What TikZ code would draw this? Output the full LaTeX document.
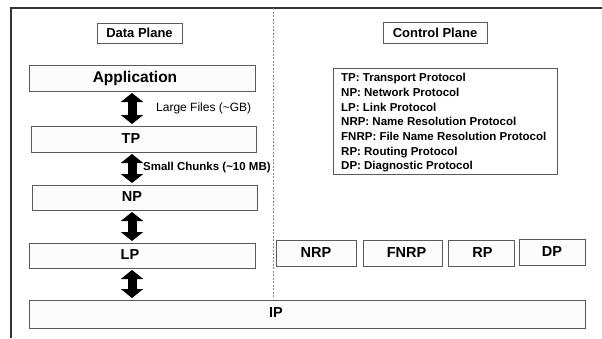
\documentclass[tikz,border=0pt]{standalone}
\usepackage{fontspec}
\setmainfont{Liberation Sans}
\usetikzlibrary{arrows.meta,calc}
\definecolor{boxline}{HTML}{5A5A5A}
\definecolor{boxfill}{HTML}{FCFCFC}
\definecolor{frameline}{HTML}{333333}
\definecolor{dashline}{HTML}{8A8A8A}
\tikzset{
  layerbox/.style={draw=boxline, fill=boxfill, line width=1pt, inner sep=0pt},
  titlebox/.style={draw=boxline, fill=white, line width=1pt, inner sep=0pt, font=\fontsize{13}{15}\selectfont\bfseries},
  boxtext/.style={inner sep=0pt, font=\fontsize{14.5}{17}\selectfont\bfseries},
  dblarrow/.style={line width=9pt, {Triangle[width=22pt,length=9pt]}-{Triangle[width=22pt,length=9pt]}, black, shorten <=1.5pt, shorten >=1.5pt},
  sidelabel/.style={inner sep=0pt, anchor=west},
}
\begin{document}
\begin{tikzpicture}[x=1pt,y=-1pt]
\useasboundingbox (0,0) rectangle (602,338);
% frame
\coordinate (fl) at (11,338);
\coordinate (fc) at (11,8);
\coordinate (fr) at (602,8);
\draw[frameline, line width=1.2pt] (fl) -- (fc) -- (fr);
% dashed separator
\coordinate (dtop) at (273,8);
\coordinate (dbot) at (273,298);
\draw[dashline, line width=1pt, dash pattern=on 2pt off 1.5pt] (dtop) -- (dbot);
% titles
\node[titlebox, minimum width=85pt, minimum height=20pt] (dataplane) at (139.5,33) {Data Plane};
\node[titlebox, minimum width=104pt, minimum height=21pt] (ctrlplane) at (435,32.5) {Control Plane};
% data plane stack
\node[layerbox, minimum width=226pt, minimum height=26pt] (app) at (142,78) {};
\node[boxtext, font=\fontsize{15.5}{18}\selectfont\bfseries] (apptext) at (135,78) {Application};
\node[layerbox, minimum width=225pt, minimum height=26pt] (tp) at (143.5,139) {};
\node[boxtext] (tptext) at (131,139) {TP};
\node[layerbox, minimum width=225pt, minimum height=25pt] (np) at (144.5,197.5) {};
\node[boxtext] (nptext) at (132,197) {NP};
\node[layerbox, minimum width=226pt, minimum height=25pt] (lp) at (142,255.5) {};
\node[boxtext] (lptext) at (130,255) {LP};
\node[layerbox, minimum width=556pt, minimum height=28pt] (ip) at (307,314) {};
\node[boxtext] (iptext) at (276,313) {IP};
% arrows
\coordinate (ax) at (132,0);
\draw[dblarrow] (app.south -| ax) -- (tp.north -| ax);
\draw[dblarrow] (tp.south -| ax) -- (np.north -| ax);
\draw[dblarrow] (np.south -| ax) -- (lp.north -| ax);
\draw[dblarrow] (lp.south -| ax) -- (ip.north -| ax);
% arrow labels
\node[sidelabel, font=\fontsize{12}{14}\selectfont] (lf) at (156,108) {Large Files (\textasciitilde GB)};
\node[sidelabel, font=\fontsize{11.5}{14}\selectfont\bfseries] (sc) at (143,168) {Small Chunks (\textasciitilde 10 MB)};
% legend
\node[layerbox, fill=white, minimum width=224pt, minimum height=106pt] (legend) at (445,121) {};
\node[inner sep=0pt, anchor=north west, align=left, font=\fontsize{11.5}{14.67}\selectfont\bfseries] (legendtext) at (341,73.3) {TP: Transport Protocol\\NP: Network Protocol\\LP: Link Protocol\\NRP: Name Resolution Protocol\\FNRP: File Name Resolution Protocol\\RP: Routing Protocol\\DP: Diagnostic Protocol};
% control plane boxes
\node[layerbox, boxtext, minimum width=80pt, minimum height=26pt] (nrp) at (316,253) {\raisebox{-2pt}{NRP}};
\node[layerbox, boxtext, minimum width=79pt, minimum height=26pt] (fnrp) at (402.5,253) {\hspace*{8pt}FNRP};
\node[layerbox, boxtext, minimum width=66pt, minimum height=26pt] (rp) at (481,253) {\hspace*{3pt}RP};
\node[layerbox, boxtext, minimum width=66pt, minimum height=26pt] (dp) at (552,252) {\raisebox{1.5pt}{DP}};
\end{tikzpicture}
\end{document}
